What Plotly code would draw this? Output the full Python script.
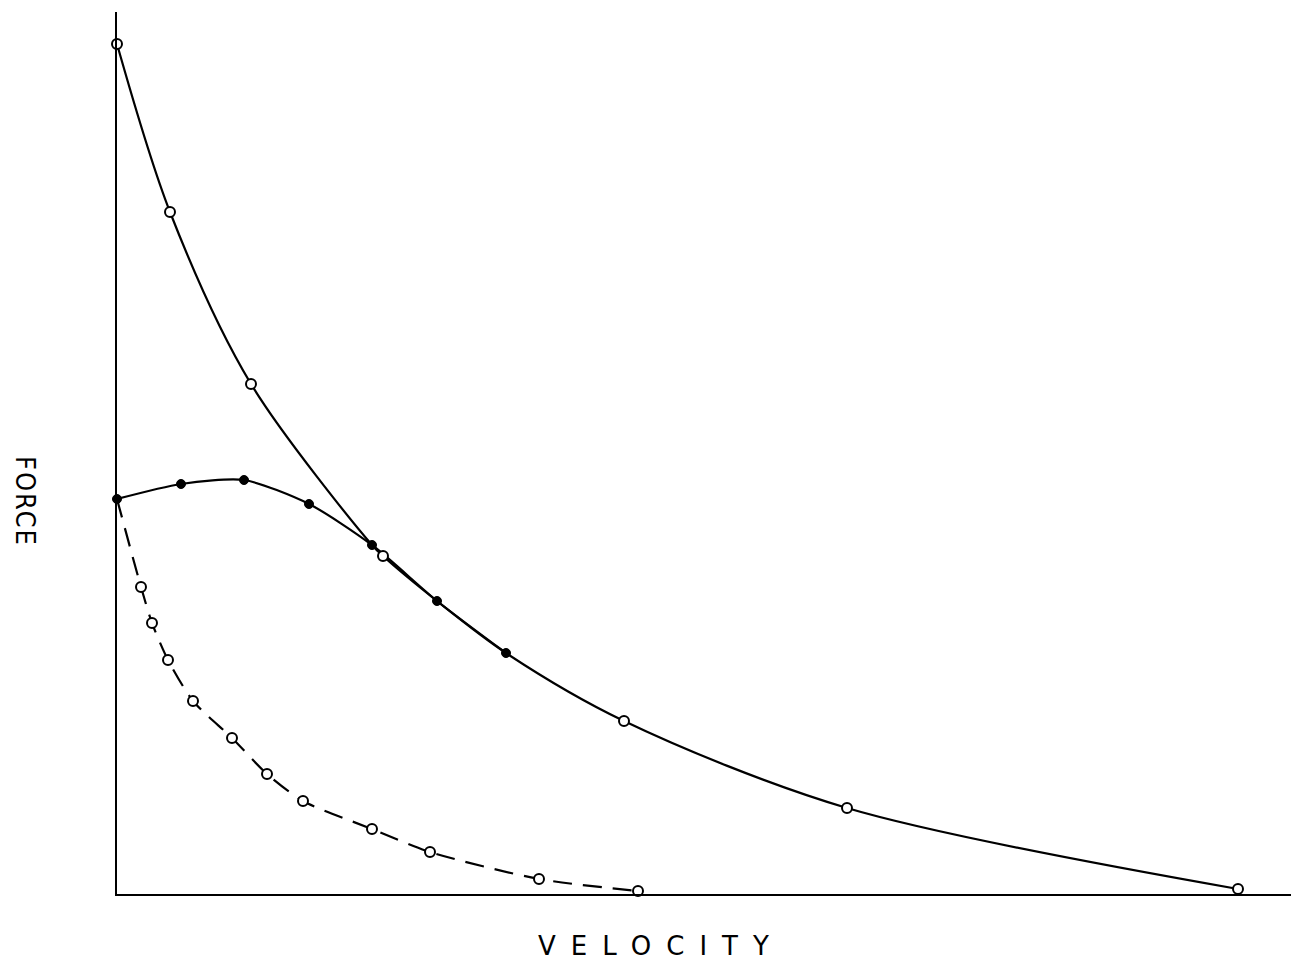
import plotly.graph_objects as go

# Data (arbitrary units)
open_vel = [0, 53, 134, 266, 507, 730, 1121]
open_force = [850, 682, 510, 338, 173, 86, 5]

filled_vel = [0, 64, 127, 192, 255, 320, 389]
filled_force = [395, 410, 414, 390, 349, 293, 241]

dash_vel = [24, 35, 51, 76, 115, 150, 186, 255, 313, 422, 521]
dash_force = [307, 271, 234, 193, 156, 120, 93, 65, 42, 15, 3]

x_title = "VELOCITY"
y_title = "FORCE"

# Steep curve: open points plus the filled points on the shared part
pairs = sorted(list(zip(open_vel, open_force)) +
               [(v, f) for v, f in zip(filled_vel, filled_force) if v >= 255])
steep_vel = [p[0] for p in pairs]
steep_force = [p[1] for p in pairs]

fig = go.Figure()

fig.add_trace(go.Scatter(x=steep_vel, y=steep_force, mode="lines",
                         line=dict(color="black", width=2.2, shape="spline", smoothing=0.9),
                         hoverinfo="skip", showlegend=False))
fig.add_trace(go.Scatter(x=filled_vel, y=filled_force, mode="lines",
                         line=dict(color="black", width=2.2, shape="spline", smoothing=0.7),
                         hoverinfo="skip", showlegend=False))
fig.add_trace(go.Scatter(x=[filled_vel[0]] + dash_vel, y=[filled_force[0]] + dash_force,
                         mode="lines",
                         line=dict(color="black", width=2.2, dash="19px,11px",
                                   shape="spline", smoothing=0.7),
                         hoverinfo="skip", showlegend=False))

fig.add_trace(go.Scatter(x=open_vel + dash_vel, y=open_force + dash_force, mode="markers",
                         marker=dict(symbol="circle", size=10, color="white",
                                     line=dict(color="black", width=2)),
                         cliponaxis=False, showlegend=False))
fig.add_trace(go.Scatter(x=filled_vel, y=filled_force, mode="markers",
                         marker=dict(symbol="circle", size=9, color="black",
                                     line=dict(color="black", width=1)),
                         cliponaxis=False, showlegend=False))

# page has an 8px body margin: plot area placed so it lands where the reference has it
W, H = 1291, 953
L, T, R, B = 109, 4, 4, 67
pw, ph = W - L - R, H - T - B

fig.update_layout(
    width=W, height=H,
    margin=dict(l=L, r=R, t=T, b=B),
    paper_bgcolor="white", plot_bgcolor="white",
    font=dict(family="DejaVu Sans", color="black"),
    xaxis=dict(range=[0, 1178], showgrid=False, zeroline=False, showticklabels=False,
               ticks="", showline=True, linecolor="black", linewidth=2),
    yaxis=dict(range=[0, 882], showgrid=False, zeroline=False, showticklabels=False,
               ticks="", showline=True, linecolor="black", linewidth=2),
    annotations=[
        dict(text='<span style="letter-spacing:15px">' + x_title + '</span>',
             xref="paper", yref="paper", x=(654 + 7 - 117) / pw,
             y=-(946 - 894) / ph, showarrow=False, xanchor="center", yanchor="middle",
             font=dict(size=26, family="DejaVu Sans", color="black")),
        dict(text='<span style="letter-spacing:2px">' + y_title + '</span>',
             xref="paper", yref="paper", x=-(117 - 26) / pw,
             y=(894 - 502 + 1) / ph, showarrow=False, xanchor="center", yanchor="middle",
             textangle=90,
             font=dict(size=27, family="DejaVu Sans Condensed", color="black")),
    ],
)

fig.write_html("out.html")
